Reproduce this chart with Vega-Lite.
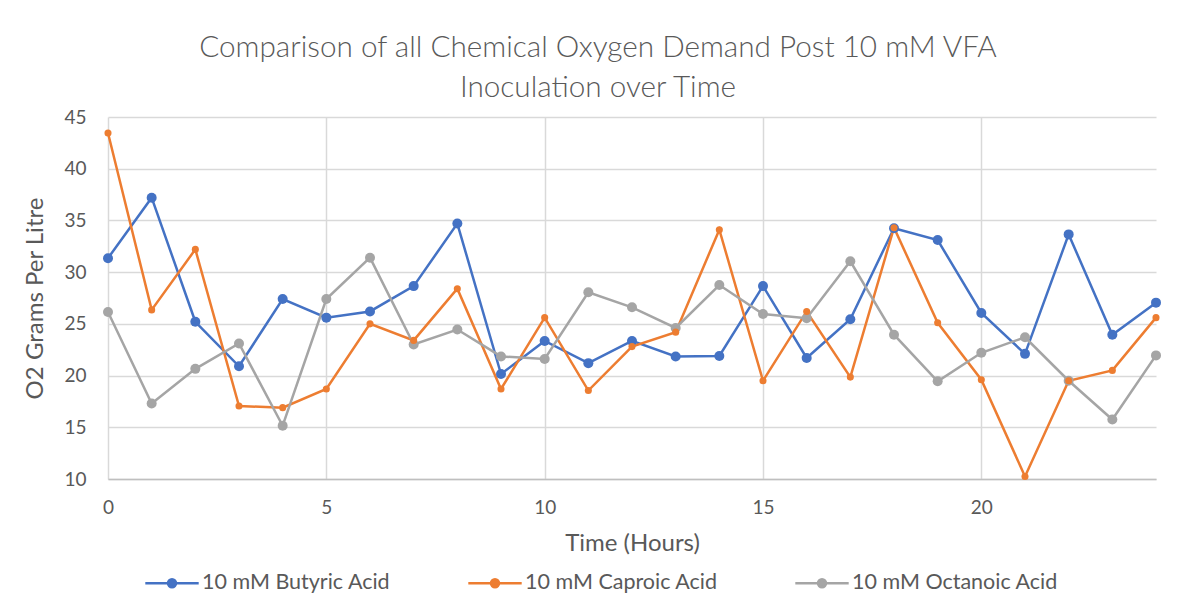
{
  "$schema": "https://vega.github.io/schema/vega-lite/v6.json",
  "width": 1048,
  "height": 362,
  "autosize": {"type": "none"},
  "padding": {"left": 108, "top": 117, "right": 28, "bottom": 127},
  "background": "white",
  "title": {
    "text": ["Comparison of all Chemical Oxygen Demand Post 10 mM VFA", "Inoculation over Time"],
    "anchor": "middle",
    "dx": -34,
    "fontSize": 29.7,
    "font": "Lato",
    "fontWeight": 300,
    "color": "#595959",
    "lineHeight": 40,
    "offset": 4
  },
  "config": {
    "view": {"stroke": null},
    "axis": {"labelFont": "Lato", "titleFont": "Lato", "labelColor": "#595959", "titleColor": "#595959", "labelFontSize": 19, "titleFontSize": 24, "titleFontWeight": "normal", "gridColor": "#D9D9D9", "gridWidth": 1.5, "ticks": false}
  },
  "data": {"values": [
    {"t":0,"s":"10 mM Butyric Acid","v":31.35},{"t":1,"s":"10 mM Butyric Acid","v":37.2},{"t":2,"s":"10 mM Butyric Acid","v":25.2},{"t":3,"s":"10 mM Butyric Acid","v":20.9},{"t":4,"s":"10 mM Butyric Acid","v":27.4},{"t":5,"s":"10 mM Butyric Acid","v":25.6},{"t":6,"s":"10 mM Butyric Acid","v":26.2},{"t":7,"s":"10 mM Butyric Acid","v":28.65},{"t":8,"s":"10 mM Butyric Acid","v":34.7},{"t":9,"s":"10 mM Butyric Acid","v":20.15},{"t":10,"s":"10 mM Butyric Acid","v":23.35},{"t":11,"s":"10 mM Butyric Acid","v":21.2},{"t":12,"s":"10 mM Butyric Acid","v":23.35},{"t":13,"s":"10 mM Butyric Acid","v":21.85},{"t":14,"s":"10 mM Butyric Acid","v":21.9},{"t":15,"s":"10 mM Butyric Acid","v":28.65},{"t":16,"s":"10 mM Butyric Acid","v":21.7},{"t":17,"s":"10 mM Butyric Acid","v":25.45},{"t":18,"s":"10 mM Butyric Acid","v":34.25},{"t":19,"s":"10 mM Butyric Acid","v":33.1},{"t":20,"s":"10 mM Butyric Acid","v":26.05},{"t":21,"s":"10 mM Butyric Acid","v":22.1},{"t":22,"s":"10 mM Butyric Acid","v":33.65},{"t":23,"s":"10 mM Butyric Acid","v":23.95},{"t":24,"s":"10 mM Butyric Acid","v":27.05},
    {"t":0,"s":"10 mM Caproic Acid","v":43.45},{"t":1,"s":"10 mM Caproic Acid","v":26.35},{"t":2,"s":"10 mM Caproic Acid","v":32.2},{"t":3,"s":"10 mM Caproic Acid","v":17.05},{"t":4,"s":"10 mM Caproic Acid","v":16.9},{"t":5,"s":"10 mM Caproic Acid","v":18.7},{"t":6,"s":"10 mM Caproic Acid","v":25.0},{"t":7,"s":"10 mM Caproic Acid","v":23.4},{"t":8,"s":"10 mM Caproic Acid","v":28.4},{"t":9,"s":"10 mM Caproic Acid","v":18.7},{"t":10,"s":"10 mM Caproic Acid","v":25.6},{"t":11,"s":"10 mM Caproic Acid","v":18.55},{"t":12,"s":"10 mM Caproic Acid","v":22.8},{"t":13,"s":"10 mM Caproic Acid","v":24.2},{"t":14,"s":"10 mM Caproic Acid","v":34.1},{"t":15,"s":"10 mM Caproic Acid","v":19.5},{"t":16,"s":"10 mM Caproic Acid","v":26.2},{"t":17,"s":"10 mM Caproic Acid","v":19.85},{"t":18,"s":"10 mM Caproic Acid","v":34.3},{"t":19,"s":"10 mM Caproic Acid","v":25.1},{"t":20,"s":"10 mM Caproic Acid","v":19.6},{"t":21,"s":"10 mM Caproic Acid","v":10.25},{"t":22,"s":"10 mM Caproic Acid","v":19.5},{"t":23,"s":"10 mM Caproic Acid","v":20.5},{"t":24,"s":"10 mM Caproic Acid","v":25.6},
    {"t":0,"s":"10 mM Octanoic Acid","v":26.15},{"t":1,"s":"10 mM Octanoic Acid","v":17.3},{"t":2,"s":"10 mM Octanoic Acid","v":20.65},{"t":3,"s":"10 mM Octanoic Acid","v":23.1},{"t":4,"s":"10 mM Octanoic Acid","v":15.15},{"t":5,"s":"10 mM Octanoic Acid","v":27.4},{"t":6,"s":"10 mM Octanoic Acid","v":31.4},{"t":7,"s":"10 mM Octanoic Acid","v":23.0},{"t":8,"s":"10 mM Octanoic Acid","v":24.45},{"t":9,"s":"10 mM Octanoic Acid","v":21.85},{"t":10,"s":"10 mM Octanoic Acid","v":21.6},{"t":11,"s":"10 mM Octanoic Acid","v":28.05},{"t":12,"s":"10 mM Octanoic Acid","v":26.6},{"t":13,"s":"10 mM Octanoic Acid","v":24.6},{"t":14,"s":"10 mM Octanoic Acid","v":28.75},{"t":15,"s":"10 mM Octanoic Acid","v":25.95},{"t":16,"s":"10 mM Octanoic Acid","v":25.55},{"t":17,"s":"10 mM Octanoic Acid","v":31.05},{"t":18,"s":"10 mM Octanoic Acid","v":23.95},{"t":19,"s":"10 mM Octanoic Acid","v":19.45},{"t":20,"s":"10 mM Octanoic Acid","v":22.2},{"t":21,"s":"10 mM Octanoic Acid","v":23.7},{"t":22,"s":"10 mM Octanoic Acid","v":19.5},{"t":23,"s":"10 mM Octanoic Acid","v":15.75},{"t":24,"s":"10 mM Octanoic Acid","v":21.95}
  ]},
  "encoding": {
    "x": {"field": "t", "type": "quantitative", "title": "Time (Hours)",
      "scale": {"domain": [0, 24], "nice": false, "zero": false},
      "axis": {"values": [0, 5, 10, 15, 20], "labelFlush": false, "labelPadding": 19, "titlePadding": 14, "domainColor": "#BFBFBF", "domainWidth": 1.5}},
    "y": {"field": "v", "type": "quantitative", "title": "O2 Grams Per Litre",
      "scale": {"domain": [10, 45], "nice": false, "zero": false},
      "axis": {"values": [10, 15, 20, 25, 30, 35, 40, 45], "domain": false, "labelPadding": 22, "titlePadding": 16}},
    "color": {"field": "s", "type": "nominal",
      "scale": {"domain": ["10 mM Butyric Acid", "10 mM Caproic Acid", "10 mM Octanoic Acid"], "range": ["#4472C4", "#ED7D31", "#A5A5A5"]},
      "legend": {"title": null, "orient": "none", "direction": "horizontal", "legendX": 36, "legendY": 438,
        "labelFont": "Lato", "labelFontSize": 21.5, "labelColor": "#595959", "labelLimit": 400, "columnPadding": 72, "labelOffset": 2,
        "symbolType": "M -1 0 L 1 0 M 0.15 0 A 0.15 0.15 0 1 1 -0.15 0 A 0.15 0.15 0 1 1 0.15 0",
        "symbolSize": 2850, "symbolStrokeWidth": 2.5}}
  },
  "layer": [
    {"mark": {"type": "line", "strokeWidth": 2.5}},
    {"transform": [{"filter": "datum.s !== '10 mM Caproic Acid'"}],
      "mark": {"type": "point", "filled": true, "opacity": 1, "size": 100}},
    {"transform": [{"filter": "datum.s === '10 mM Caproic Acid'"}],
      "mark": {"type": "point", "filled": true, "opacity": 1, "size": 50}}
  ]
}
